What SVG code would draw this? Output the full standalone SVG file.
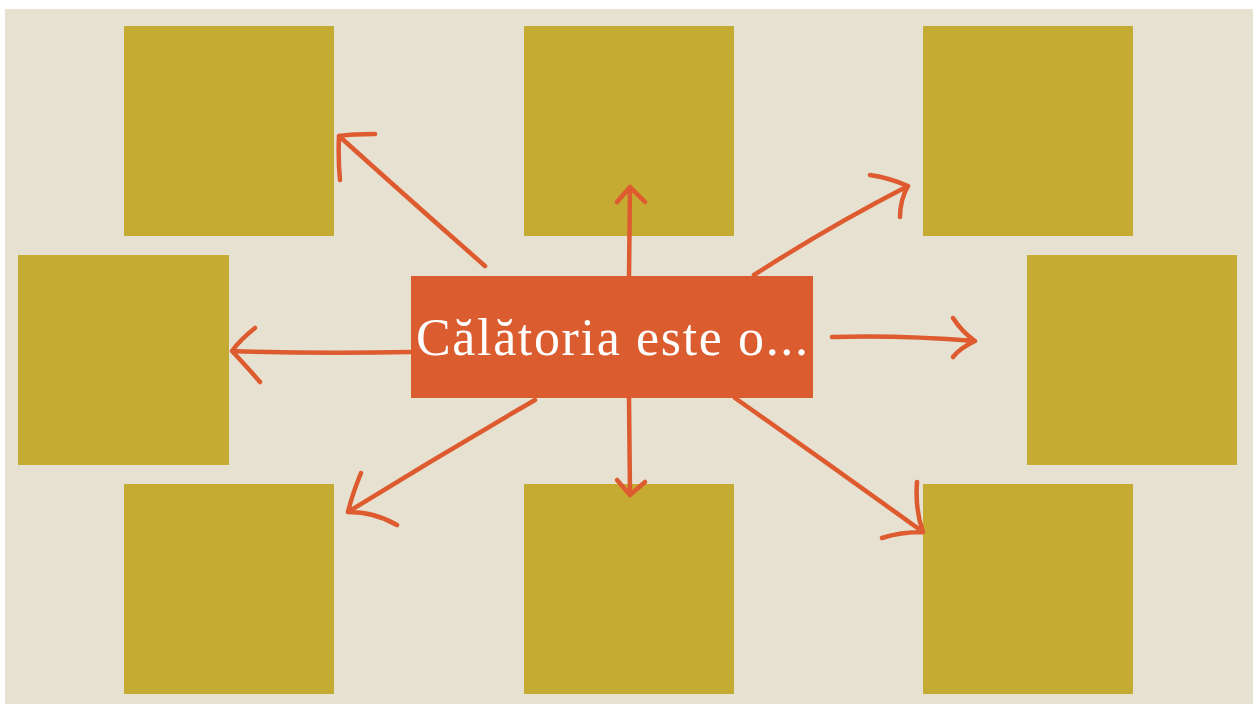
<svg xmlns="http://www.w3.org/2000/svg" width="1253" height="704" viewBox="0 0 1253 704">
<style>
.box{fill:#C6AB33}
.arr{fill:none;stroke:#DE5A2F;stroke-width:4.5;stroke-linecap:round;stroke-linejoin:round}
.lbl{font-family:"Liberation Serif","DejaVu Serif",serif;font-size:52px;fill:#FFFFFF}
</style>
<rect x="0" y="0" width="1253" height="704" fill="#FFFFFF"/>
<rect x="5" y="9" width="1248" height="695" fill="#E6E1D0"/>
<g id="n-top-left"><rect class="box" x="124" y="26" width="210" height="210"/></g>
<g id="n-top-mid"><rect class="box" x="524" y="26" width="210" height="210"/></g>
<g id="n-top-right"><rect class="box" x="923" y="26" width="210" height="210"/></g>
<g id="n-mid-left"><rect class="box" x="18" y="255" width="211" height="210"/></g>
<g id="n-mid-right"><rect class="box" x="1027" y="255" width="210" height="210"/></g>
<g id="n-bot-left"><rect class="box" x="124" y="484" width="210" height="210"/></g>
<g id="n-bot-mid"><rect class="box" x="524" y="484" width="210" height="210"/></g>
<g id="n-bot-right"><rect class="box" x="923" y="484" width="210" height="210"/></g>
<g id="connectors">
  <path class="arr" d="M485 266 Q410 200 339 136 M375 134 Q352 134 339 136 Q338 160 340 180"/>
  <path class="arr" d="M629 276 L630 187 M617 202 L630 187 L645 202" stroke-width="3"/>
  <path class="arr" d="M629 398 L630 495 M617 480 L630 495 L645 482" stroke-width="3"/>
  <path class="arr" d="M754 275 Q830 226 908 186 M870 175 Q890 178 908 186 Q900 200 900 217"/>
  <path class="arr" d="M410 352 Q320 354 232 351 M255 328 Q240 340 232 351 Q248 368 260 382"/>
  <path class="arr" d="M832 337 Q900 335 975 341 M953 318 Q962 332 975 341 Q960 348 953 357"/>
  <path class="arr" d="M535 400 Q440 455 348 512 M361 473 Q352 495 348 512 Q375 512 397 525"/>
  <path class="arr" d="M735 398 Q830 465 923 532 M917 482 Q915 510 923 532 Q900 532 882 538"/>
</g>
<g id="n-center">
  <rect x="411" y="276" width="402" height="122" fill="#DA5C2F"/>
  <text class="lbl" x="416" y="355" textLength="392" lengthAdjust="spacing">Călătoria este o...</text>
</g>
</svg>
